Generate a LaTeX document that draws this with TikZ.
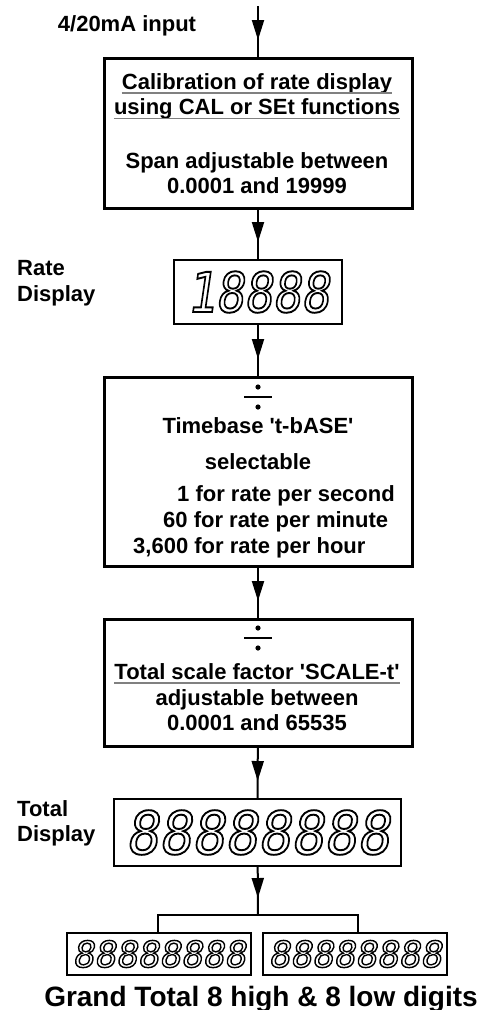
\documentclass[tikz,border=0pt]{standalone}
\usepackage{fontspec}
\setmainfont{Liberation Sans}[Ligatures=TeXOff]
\newfontfamily\segfont[FakeSlant=0.17]{DejaVu Sans Mono}
\usepackage{tikz}
\usetikzlibrary{positioning}
\usetikzlibrary{arrows.meta}
\usetikzlibrary{decorations.markings}
\definecolor{lgray}{rgb}{0.5,0.5,0.5}
\newcommand{\segdigits}[2][1.9]{\special{pdf:literal direct 1 Tr #1 w}#2\special{pdf:literal direct 0 Tr}}

\begin{document}
\begin{tikzpicture}[x=1pt,y=-1pt,font=\bfseries\fontsize{22}{25}\selectfont,
block/.style={draw, line width=3pt, minimum width=308pt, inner sep=0pt},
display/.style={draw, line width=2pt, inner sep=0pt},
txt/.style={inner sep=0pt, anchor=base},
lefttxt/.style={inner sep=0pt, anchor=base west},
flow/.style={line width=2pt, postaction={decorate}, decoration={markings, mark=at position -17pt with {\arrow{Triangle[width=12pt,length=20pt]}}}},
branch/.style={line width=2pt},
uline/.style={draw=lgray, line width=1.5pt},
divsign/.pic={\draw[line width=2pt] (-14,0) -- (14,0); \fill (0,-10) circle (2.6pt); \fill (0,10) circle (2.6pt);}]
\useasboundingbox (0,0) rectangle (488,1010);

% calibration
\coordinate (in) at (258,6);
\node[txt] (inlabel) at (127,31) {4/20mA input};
\node[block, minimum height=150pt] (calib) at (258,133.5) {};
\node[txt] (cal1) at (257,89) {Calibration of rate display};
\node[txt] (cal2) at (257,114) {using CAL or SEt functions};
\node[txt] (span1) at (257,168) {Span adjustable between};
\node[txt] (span2) at (257,193) {0.0001 and 19999};
\draw[uline] ([yshift=-4pt]cal1.base west) -- ([yshift=-4pt]cal1.base east);
\draw[uline] ([yshift=-4.5pt]cal2.base west) -- ([yshift=-4.5pt]cal2.base east);

% rate display
\node[display, minimum width=168pt, minimum height=64pt] (rate) at (258,292) {\segfont\mdseries\fontsize{55}{55}\selectfont\scalebox{0.86}[1]{\segdigits{18888}}};
\node[inner sep=0pt, anchor=west, align=left, font=\bfseries\fontsize{22}{26}\selectfont] (ratelabel) at (17,283) {Rate\\Display};

% timebase
\node[block, minimum height=189pt] (tbase) at (258,472) {};
\pic at (258,397) {divsign};
\node[txt] (tb1) at (258,433) {Timebase 't-bASE'};
\node[txt] (tb2) at (258,469) {selectable};
\node[lefttxt] (tb3) at (177,501) {1 for rate per second};
\node[lefttxt] (tb4) at (163,527) {60 for rate per minute};
\node[lefttxt] (tb5) at (133,553) {3,600 for rate per hour};

% scale factor
\node[block, minimum height=127pt] (scale) at (258,683) {};
\pic at (258,638) {divsign};
\node[txt] (sc1) at (257,679) {Total scale factor 'SCALE-t'};
\node[txt] (sc2) at (257,705) {adjustable between};
\node[txt] (sc3) at (257,730) {0.0001 and 65535};
\draw[uline] ([yshift=-4pt]sc1.base west) -- ([yshift=-4pt]sc1.base east);

% total display
\node[display, minimum width=287pt, minimum height=67pt] (total) at (257.5,832.5) {\segfont\mdseries\fontsize{59}{59}\selectfont\scalebox{0.93}[1]{\segdigits{88888888}}};
\node[inner sep=0pt, anchor=west, align=left, font=\bfseries\fontsize{22}{25}\selectfont] (totallabel) at (17,823) {Total\\Display};

% grand total
\coordinate (split) at (258,915);
\coordinate (splitL) at (158,915);
\coordinate (splitR) at (358,915);
\node[display, minimum width=184pt, minimum height=42pt] (high) at (159,954) {\segfont\mdseries\fontsize{36}{36}\selectfont\segdigits[1.4]{88888888}};
\node[display, minimum width=184pt, minimum height=42pt] (low) at (355,954) {\segfont\mdseries\fontsize{36}{36}\selectfont\segdigits[1.4]{88888888}};
\node[txt, font=\bfseries\fontsize{28}{28}\selectfont] (grand) at (261,1006) {Grand Total 8 high \& 8 low digits};

\draw[flow] (in) -- (calib);
\draw[flow] (calib) -- (rate);
\draw[flow] (rate) -- (tbase);
\draw[flow] (tbase) -- (scale);
\draw[flow] (scale) -- (total);
\draw[flow] (total) -- (split);
\draw[branch] (high.north -| splitL) -- (splitL) -- (splitR) -- (low.north -| splitR);
\end{tikzpicture}
\end{document}
